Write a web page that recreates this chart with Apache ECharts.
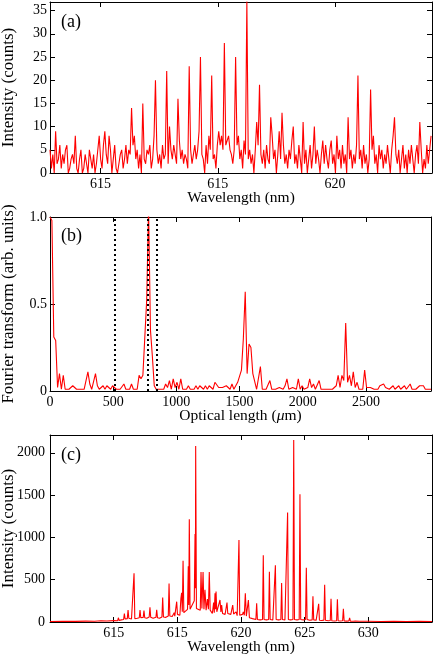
<!DOCTYPE html>
<html>
<head>
<meta charset="utf-8">
<script src="https://cdn.jsdelivr.net/npm/echarts@6/dist/echarts.min.js"></script>
<style>
  html, body { margin: 0; padding: 0; background: #fff; }
  #chart { width: 436px; height: 654px; }
</style>
</head>
<body>
<div id="chart"></div>
<script>
// panel (a): spectrum, uniform wavelength sampling
const aStart = 607.84
const aStep = 0.06
const aCounts = [
  5,1,4,0,9,2,3,6,1,4,2,5,6,0,1,3,4,2,8,1,
  0,3,5,0,1,4,2,0,5,3,1,4,0,2,5,8,3,1,6,9,
  4,2,8,5,0,3,6,1,0,2,4,5,1,3,6,2,5,4,14,6,
  8,3,5,1,4,0,15,3,2,5,4,6,1,3,8,20,5,2,4,1,
  6,3,4,22,2,10,5,3,6,4,2,16,7,3,5,2,4,3,1,23,
  5,2,4,6,3,5,9,25,4,3,0,6,2,8,5,21,3,4,1,6,
  9,6,8,5,28,6,7,8,5,4,2,5,25,6,8,3,5,1,7,4,
  37,3,5,2,4,0,5,11,6,19,4,2,5,1,6,3,2,12,8,3,
  5,0,4,9,3,13,6,2,4,1,5,3,7,10,2,4,1,6,3,0,
  11,2,5,0,3,6,1,4,10,2,5,3,0,4,7,2,6,3,1,5,
  7,2,4,0,8,3,5,1,6,2,4,0,12,3,5,1,4,2,6,21,
  3,5,1,6,2,4,0,3,18,5,8,2,4,0,6,3,5,1,4,2,
  6,3,0,5,8,12,4,2,5,0,3,6,1,4,0,5,2,6,3,0,
  4,6,2,11,5,0,3,1,6,2,5,8
]
const aXTicks = [610, 615, 620]
const aXLabels = ['615', '615', '620']
const aYTicks = [0, 5, 10, 15, 20, 25, 30, 35]

// panel (b): Fourier transform, optical length in um
const bStart = 0
const bStep = 15
const bValues = [
  1.0,0.98,0.31,0.29,0.02,0.1,0.01,0.09,0.01,0.02,
  0.01,0.01,0.03,0.02,0.01,0.02,0.01,0.02,0.01,0.02,
  0.11,0.04,0.01,0.02,0.1,0.03,0.01,0.02,0.03,0.01,
  0.03,0.02,0.01,0.03,0.04,0.01,0.02,0.01,0.02,0.04,
  0.01,0.02,0.01,0.04,0.01,0.02,0.01,0.09,0.07,0.09,
  0.1,0.52,1.05,0.35,0.2,0.03,0.01,0.02,0.01,0.02,
  0.01,0.04,0.02,0.06,0.01,0.07,0.02,0.05,0.01,0.07,
  0.01,0.02,0.01,0.03,0.01,0.02,0.01,0.03,0.01,0.03,
  0.02,0.01,0.03,0.01,0.03,0.02,0.01,0.05,0.04,0.02,
  0.01,0.02,0.01,0.03,0.02,0.01,0.04,0.01,0.02,0.05,
  0.06,0.12,0.3,0.57,0.1,0.27,0.25,0.1,0.09,0.01,
  0.02,0.14,0.01,0.02,0.01,0.02,0.06,0.01,0.02,0.01,
  0.01,0.02,0.01,0.01,0.03,0.07,0.01,0.01,0.02,0.01,
  0.01,0.07,0.01,0.03,0.01,0.02,0.02,0.07,0.02,0.04,
  0.01,0.02,0.06,0.01,0.02,0.01,0.02,0.01,0.02,0.01,
  0.02,0.03,0.09,0.02,0.09,0.06,0.39,0.05,0.09,0.03,
  0.11,0.02,0.05,0.01,0.02,0.01,0.12,0.02,0.01,0.02,
  0.01,0.01,0.02,0.01,0.03,0.02,0.04,0.02,0.02,0.01,
  0.01,0.03,0.01,0.02,0.03,0.01,0.02,0.03,0.01,0.02,
  0.04,0.01,0.02,0.01,0.01,0.03,0.02,0.03,0.01,0.02,
  0.01,0.01
]
const bMarks = [515, 770, 846]
const bXTicks = [0, 500, 1000, 1500, 2000, 2500]
const bXLabels = ['0', '500', '1000', '1500', '2000', '2500']
const bYTicks = [0, 0.5, 1]
const bYLabels = ['0', '0.5', '1.0']

// panel (c): spectrum, [wavelength nm, counts]
const cSpectrum = [
  [605.0,6],[606.0,8],[607.0,7],[607.8,10],[608.5,9],[609.0,14],[609.47,12],[609.53,30],[609.6,12],
  [610.0,16],[610.31,15],[610.37,50],[610.43,18],[610.6,25],[610.78,30],[610.84,100],[610.9,35],
  [611.07,40],[611.13,140],[611.19,45],[611.4,35],[611.54,40],[611.6,575],[611.66,40],[611.85,45],
  [612.01,50],[612.07,140],[612.13,50],[612.25,45],[612.32,55],[612.38,135],[612.44,50],[612.6,45],
  [612.79,60],[612.85,175],[612.91,55],[613.1,45],[613.32,55],[613.38,145],[613.44,50],[613.6,45],
  [613.79,60],[613.85,290],[613.91,60],[614.1,55],[614.29,70],[614.35,455],[614.41,70],[614.6,65],
  [614.75,110],[614.8,70],[614.89,90],[614.95,240],[615.01,90],[615.2,80],[615.28,280],[615.34,345],
  [615.39,120],[615.45,725],[615.51,110],[615.65,100],[615.8,150],[615.86,660],[615.9,200],
  [615.94,1215],[616.0,150],[616.15,130],[616.33,250],[616.39,1040],[616.42,400],[616.44,2080],
  [616.5,160],[616.65,150],[616.8,140],[616.86,590],[616.93,160],[617.02,590],[617.09,150],
  [617.17,380],[617.26,140],[617.36,270],[617.44,150],[617.51,590],[617.58,140],[617.75,100],
  [617.85,230],[617.9,110],[617.96,340],[618.0,150],[618.04,360],[618.1,120],[618.2,110],
  [618.35,260],[618.42,120],[618.48,200],[618.55,100],[618.75,90],[618.9,230],[618.96,100],
  [619.2,90],[619.35,200],[619.42,95],[619.55,80],[619.61,120],[619.7,75],[619.78,90],[619.84,970],
  [619.9,80],[620.0,100],[620.12,90],[620.18,120],[620.26,80],[620.34,340],[620.42,70],[620.5,60],
  [620.58,260],[620.66,50],[620.9,40],[621.17,30],[621.23,220],[621.29,30],[621.5,25],[621.69,30],
  [621.75,790],[621.81,30],[622.0,25],[622.17,30],[622.23,595],[622.29,30],[622.5,25],[622.64,30],
  [622.7,670],[622.76,30],[622.95,25],[623.13,30],[623.19,460],[623.25,30],[623.45,25],[623.6,30],
  [623.66,1295],[623.72,30],[623.9,25],[624.08,30],[624.14,2150],[624.2,30],[624.4,25],[624.57,30],
  [624.63,1510],[624.69,30],[624.9,25],[625.07,30],[625.13,640],[625.19,30],[625.4,20],[625.59,25],
  [625.65,305],[625.71,25],[625.9,20],[626.04,25],[626.1,215],[626.16,20],[626.35,18],[626.51,22],
  [626.57,440],[626.63,20],[626.85,15],[627.01,18],[627.07,275],[627.13,15],[627.35,12],[627.51,15],
  [627.57,270],[627.63,14],[627.8,12],[627.98,14],[628.04,155],[628.1,12],[628.3,10],[628.47,12],
  [628.53,50],[628.59,10],[628.8,9],[628.97,10],[629.03,20],[629.09,9],[629.3,8],[629.55,8],
  [629.61,12],[629.67,7],[630,8],[631,6],[632,7],[633,6],[634,7],[635,6]
]
const cXTicks = [610, 615, 620, 625, 630]
const cXLabels = ['615', '615', '620', '625', '630']
const cYTicks = [0, 500, 1000, 1500, 2000]

const font = 'Liberation Serif'
const red = '#ff0000'

function xAxis(grid, pos, min, max, ticks, labels, name) {
    return {
        type: 'value', gridIndex: grid, position: pos, min: min, max: max,
        axisLine: {show: true, onZero: false, lineStyle: {color: '#000', width: 1}},
        axisTick: {show: true, inside: true, length: 5, customValues: ticks, lineStyle: {color: '#000'}},
        axisLabel: {
            show: pos === 'bottom', customValues: ticks, margin: 4,
            formatter: v => labels[ticks.indexOf(v)],
            color: '#000', fontFamily: font, fontSize: 14
        },
        splitLine: {show: false},
        name: pos === 'bottom' ? name : '',
        nameLocation: 'middle', nameGap: 17, nameMoveOverlap: false,
        nameTextStyle: {color: '#000', fontFamily: font, fontSize: 15.5,
            rich: {
                a: {fontFamily: font, fontSize: 15.5, color: '#000'},
                i: {fontStyle: 'italic', fontFamily: font, fontSize: 15.5, color: '#000'}
            }}
    }
}

function yAxis(grid, pos, min, max, ticks, labels, name, margin) {
    return {
        type: 'value', gridIndex: grid, position: pos, min: min, max: max,
        axisLine: {show: true, onZero: false, lineStyle: {color: '#000', width: 1}},
        axisTick: {show: true, inside: true, length: 5, customValues: ticks, lineStyle: {color: '#000'}},
        axisLabel: {
            show: pos === 'left', customValues: ticks, margin: margin,
            formatter: v => labels[ticks.indexOf(v)],
            color: '#000', fontFamily: font, fontSize: 14
        },
        splitLine: {show: false},
        name: pos === 'left' ? name : '',
        nameLocation: 'middle', nameGap: 33, nameMoveOverlap: false,
        nameTextStyle: {color: '#000', fontFamily: font, fontSize: 17}
    }
}

const aYLabels = aYTicks.map(String)
const cYLabels = cYTicks.map(String)
const panelText = {fontFamily: font, fontSize: 18, fontWeight: 'normal', color: '#000'}

const chart = echarts.init(document.getElementById('chart'), null, {renderer: 'canvas'})
chart.setOption({
    animation: false,
    backgroundColor: '#fff',
    title: [
        {text: '(a)', left: 61, top: 13, padding: 0, textStyle: panelText},
        {text: '(b)', left: 61, top: 227, padding: 0, textStyle: panelText},
        {text: '(c)', left: 61, top: 446, padding: 0, textStyle: panelText}
    ],
    grid: [
        {left: 50, top: 2, width: 382, height: 171, outerBoundsMode: 'none'},
        {left: 50, top: 217, width: 381, height: 174, outerBoundsMode: 'none'},
        {left: 50, top: 435, width: 382, height: 187, outerBoundsMode: 'none'}
    ],
    xAxis: [
        xAxis(0, 'bottom', 607.84, 624.14, aXTicks, aXLabels, 'Wavelength (nm)'),
        xAxis(0, 'top', 607.84, 624.14, aXTicks, aXLabels, ''),
        xAxis(1, 'bottom', 0, 3015, bXTicks, bXLabels, '{a|Optical length (}{i|μ}{a|m)}'),
        xAxis(1, 'top', 0, 3015, bXTicks, bXLabels, ''),
        xAxis(2, 'bottom', 605, 635, cXTicks, cXLabels, 'Wavelength (nm)'),
        xAxis(2, 'top', 605, 635, cXTicks, cXLabels, '')
    ],
    yAxis: [
        yAxis(0, 'left', 0, 36.85, aYTicks, aYLabels, 'Intensity (counts)', 3),
        yAxis(0, 'right', 0, 36.85, aYTicks, aYLabels, '', 3),
        yAxis(1, 'left', 0, 1, bYTicks, bYLabels, 'Fourier transform (arb. units)', 3),
        yAxis(1, 'right', 0, 1, bYTicks, bYLabels, '', 3),
        yAxis(2, 'left', 0, 2210, cYTicks, cYLabels, 'Intensity (counts)', 5),
        yAxis(2, 'right', 0, 2210, cYTicks, cYLabels, '', 5)
    ],
    series: [
        {
            type: 'line', xAxisIndex: 0, yAxisIndex: 0, showSymbol: false,
            lineStyle: {color: red, width: 1.1}, itemStyle: {color: red},
            data: aCounts.map((v, i) => [aStart + i * aStep, v])
        },
        {
            type: 'line', xAxisIndex: 2, yAxisIndex: 2, showSymbol: false,
            lineStyle: {color: red, width: 1.1}, itemStyle: {color: red},
            data: bValues.map((v, i) => [bStart + i * bStep, v]),
            markLine: {
                silent: true, symbol: ['none', 'none'], label: {show: false},
                lineStyle: {color: '#000', type: [2, 3], width: 2},
                data: bMarks.map(v => ({xAxis: v}))
            }
        },
        {
            type: 'line', xAxisIndex: 4, yAxisIndex: 4, showSymbol: false,
            lineStyle: {color: red, width: 1.1}, itemStyle: {color: red},
            data: cSpectrum
        }
    ]
})
</script>
</body>
</html>
